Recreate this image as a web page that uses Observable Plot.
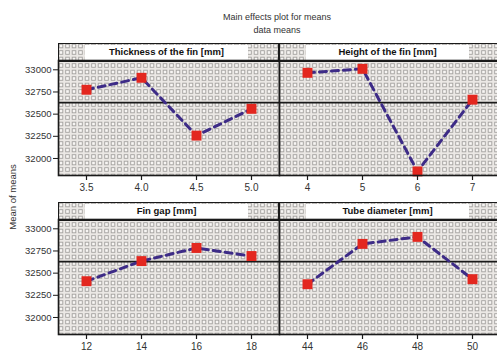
<!DOCTYPE html>
<html>
<head>
<meta charset="utf-8">
<script src="https://cdn.jsdelivr.net/npm/d3@7"></script>
<script src="https://cdn.jsdelivr.net/npm/@observablehq/plot@0.6"></script>
<style>
  html, body { margin: 0; padding: 0; background: #fff; overflow: hidden; }
  #chart { position: relative; width: 497px; height: 354px; overflow: hidden; font-family: "Liberation Sans", Arial, sans-serif; }
  .title { position: absolute; left: 177px; width: 200px; text-align: center; font-size: 9px; color: #333; }
  .ylab { position: absolute; left: 12px; top: 197px; transform: translate(-50%, -50%) rotate(-90deg); font-size: 9.5px; color: #333; white-space: nowrap; }
  .bg { position: absolute; }
  .strip { position: absolute; box-sizing: border-box; border: 1.6px solid #1a1a1a; }
  .strip span { position: absolute; top: 1px; bottom: 1px; left: 26px; right: 30px; background: #fff; text-align: center; font-weight: bold; font-size: 9.5px; line-height: 13px; color: #111; }
  .plot { position: absolute; }
</style>
</head>
<body>
<div id="chart"></div>
<script>
const titleText = "Main effects plot for means";
const subtitleText = "data means";
const yLabel = "Mean of means";

const panelLabels = ["Thickness of the fin [mm]", "Height of the fin [mm]", "Fin gap [mm]", "Tube diameter [mm]"];

const thicknessLevels = [3.5, 4.0, 4.5, 5.0];
const thicknessMeans = [32775, 32910, 32258, 32560];
const heightLevels = [4, 5, 6, 7];
const heightMeans = [32966, 33011, 31854, 32663];
const gapLevels = [12, 14, 16, 18];
const gapMeans = [32409, 32636, 32784, 32693];
const tubeLevels = [44, 46, 48, 50];
const tubeMeans = [32375, 32830, 32909, 32432];

const grandMean = 32630;
const yTicks = [32000, 32250, 32500, 32750, 33000];
const yDomain = [31808, 33105];

const chart = document.getElementById("chart");

function addDiv(cls, text, style) {
  const d = document.createElement("div");
  d.className = cls;
  if (text != null) d.textContent = text;
  Object.assign(d.style, style);
  chart.appendChild(d);
  return d;
}

addDiv("title", titleText, {top: "12px"});
addDiv("title", subtitleText, {top: "25px"});
addDiv("ylab", yLabel, {});

const tile = `<svg xmlns='http://www.w3.org/2000/svg' width='13' height='13'><rect width='13' height='13' fill='#ebe8e5'/><rect x='1.2' y='1.2' width='3.6' height='3.6' fill='#f8f6f4' stroke='#a3a19f' stroke-width='0.9'/><rect x='7.7' y='1.2' width='3.6' height='3.6' fill='#f8f6f4' stroke='#a3a19f' stroke-width='0.9'/><rect x='1.2' y='7.7' width='3.6' height='3.6' fill='#f8f6f4' stroke='#a3a19f' stroke-width='0.9'/><rect x='7.7' y='7.7' width='3.6' height='3.6' fill='#f8f6f4' stroke='#a3a19f' stroke-width='0.9'/></svg>`;
const tileUrl = `url("data:image/svg+xml,${encodeURIComponent(tile)}")`;

function panel(levels, means, label, left, top, showY, fmt) {
  const w = 221;
  addDiv("bg", null, {left: left + "px", top: top + "px", width: w + "px", height: "132px",
    backgroundImage: tileUrl, backgroundSize: "13px 13px"});
  const strip = addDiv("strip", null, {left: left + "px", top: top + "px", width: w + "px", height: "18.5px"});
  const sp = document.createElement("span");
  sp.textContent = label;
  strip.appendChild(sp);

  const data = levels.map((x, i) => ({x, y: means[i]}));
  const ml = showY ? 58 : 0;
  const p = Plot.plot({
    width: w + ml, height: 142,
    marginLeft: ml, marginRight: 0, marginTop: 0, marginBottom: 27,
    style: {background: "transparent", fontFamily: "'Liberation Sans', Arial, sans-serif", fontSize: "9.5px", color: "#333", overflow: "visible"},
    x: {domain: [levels[0], levels[levels.length - 1]], insetLeft: 28, insetRight: 28, axis: null},
    y: {domain: yDomain, axis: null},
    marks: [
      Plot.ruleY([grandMean], {stroke: "#1a1a1a", strokeWidth: 1.6}),
      Plot.line(data, {x: "x", y: "y", stroke: "#3d2b87", strokeWidth: 3, strokeDasharray: "7,5"}),
      Plot.dot(data, {x: "x", y: "y", symbol: "square", r: 5.6, fill: "#e3271f", stroke: "none"}),
      Plot.frame({stroke: "#1a1a1a", strokeWidth: 1.6}),
      Plot.axisX({ticks: levels, tickFormat: fmt, tickSize: 5, tickPadding: 3, label: null, fontSize: "10px", stroke: "#1a1a1a", strokeWidth: 1.2}),
      showY ? Plot.axisY({ticks: yTicks, tickFormat: d3.format("d"), tickSize: 5, tickPadding: 2, label: null, stroke: "#1a1a1a"}) : null
    ]
  });
  p.classList.add("plot");
  p.style.position = "absolute";
  p.style.left = (left - ml) + "px";
  p.style.top = (top + 17) + "px";
  chart.appendChild(p);
}

const f1 = d3.format(".1f");
const fi = d3.format("d");
panel(thicknessLevels, thicknessMeans, panelLabels[0], 58, 43, true, f1);
panel(heightLevels, heightMeans, panelLabels[1], 279, 43, false, fi);
panel(gapLevels, gapMeans, panelLabels[2], 58, 202, true, fi);
panel(tubeLevels, tubeMeans, panelLabels[3], 279, 202, false, fi);
</script>
</body>
</html>
